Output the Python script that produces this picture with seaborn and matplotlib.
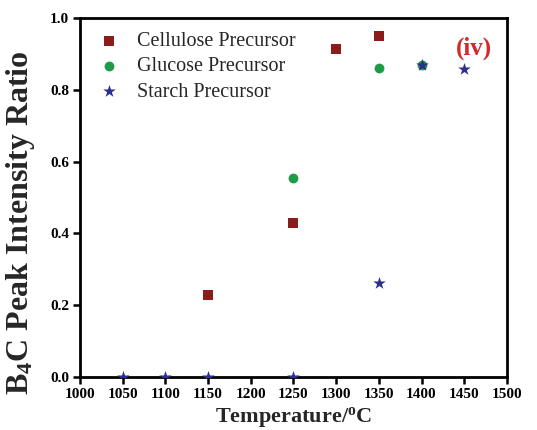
import matplotlib
matplotlib.use("Agg")
import matplotlib.pyplot as plt
import seaborn as sns
import pandas as pd

cellulose_T = [1150, 1250, 1300, 1350]
cellulose_v = [0.23, 0.43, 0.915, 0.95]
glucose_T = [1250, 1350, 1400]
glucose_v = [0.555, 0.862, 0.87]
starch_T = [1050, 1100, 1150, 1250, 1350, 1400, 1450]
starch_v = [0.0, 0.0, 0.0, 0.0, 0.262, 0.87, 0.857]
series = ["Cellulose Precursor", "Glucose Precursor", "Starch Precursor"]
xticks = [1000, 1050, 1100, 1150, 1200, 1250, 1300, 1350, 1400, 1450, 1500]
yticks = [0.0, 0.2, 0.4, 0.6, 0.8, 1.0]

df = pd.concat([
    pd.DataFrame({"T": cellulose_T, "v": cellulose_v, "s": series[0]}),
    pd.DataFrame({"T": glucose_T, "v": glucose_v, "s": series[1]}),
    pd.DataFrame({"T": starch_T, "v": starch_v, "s": series[2]}),
])

sns.set_style("ticks")
plt.rcParams["font.family"] = ["Liberation Serif", "DejaVu Serif"]
plt.rcParams["mathtext.fontset"] = "custom"
plt.rcParams["mathtext.rm"] = "Liberation Serif:bold"
plt.rcParams["mathtext.it"] = "Liberation Serif:bold"
plt.rcParams["mathtext.bf"] = "Liberation Serif:bold"

fig = plt.figure(figsize=(5.37, 4.3), dpi=100)
ax = fig.add_axes([0.149, 0.123, 0.795, 0.835])

palette = {series[0]: "#8b1c1c", series[1]: "#1f9a45", series[2]: "#2b2f8f"}
markers = {series[0]: "s", series[1]: "o", series[2]: "*"}
sizes = {series[0]: 45, series[1]: 50, series[2]: 90}
for name in series:
    sub = df[df["s"] == name]
    sns.scatterplot(data=sub, x="T", y="v", color=palette[name], marker=markers[name],
                    s=sizes[name], linewidth=0, ax=ax, label=name, zorder=3)

ax.set_xlim(1000, 1500)
ax.set_ylim(0, 1.0)
ax.set_xticks(xticks)
ax.set_yticks(yticks)
ax.set_xticklabels([str(t) for t in xticks], fontweight="bold", fontsize=11)
ax.set_yticklabels([f"{t:.1f}" for t in yticks], fontweight="bold", fontsize=11)
for sp in ax.spines.values():
    sp.set_linewidth(2)
    sp.set_color("black")
ax.tick_params(axis="both", direction="out", width=1.8, length=5, colors="black", pad=3)
ax.set_xlabel("Temperature/$^o$C", fontsize=16, fontweight="bold", labelpad=3)
ax.set_ylabel("B$_4$C Peak Intensity Ratio", fontsize=23, fontweight="bold")
ax.yaxis.set_label_coords(-0.1, 0.43)

ax.text(0.965, 0.915, "(iv)", transform=ax.transAxes, color="#d42a2a", fontsize=18,
        fontweight="bold", ha="right", va="center")

leg = ax.legend(loc="upper left", frameon=False, fontsize=14.5, handletextpad=0.65,
                handlelength=1.5, borderaxespad=0.3, labelspacing=0.3, markerscale=1.0)

fig.savefig("out.png", dpi=100)
